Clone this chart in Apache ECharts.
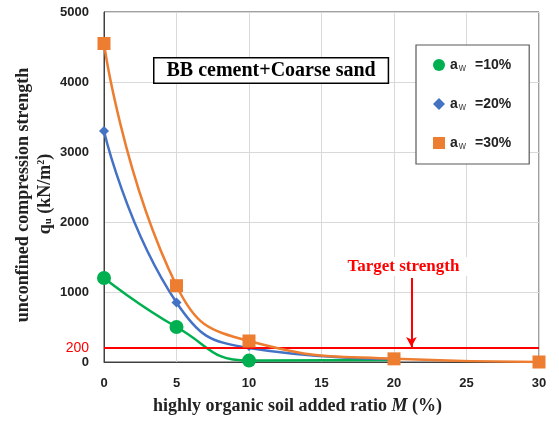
<!DOCTYPE html>
<html><head><meta charset="utf-8">
<script src="https://cdn.jsdelivr.net/npm/echarts@6/dist/echarts.min.js"></script>
<style>html,body{margin:0;padding:0;background:#fff}#c{width:559px;height:421px}</style>
</head><body><div id="c"></div>
<script>
// ---- data ----
const xMin = 0, xMax = 30, xStep = 5;
const yMin = 0, yMax = 5000, yStep = 1000;
const legendLabels = ['=10%', '=20%', '=30%'];
const M_10 = [0, 5, 10, 20];
const q_10 = [1200, 500, 20, 30];
const M_20 = [0, 5, 10, 20];
const q_20 = [3300, 850, 200, 40];
const M_30 = [0, 5, 10, 20, 30];
const q_30 = [4550, 1090, 300, 45, 0];
const targetStrength = 200;
const targetLabel = 'Target strength';
const arrowM = 21.2, arrowTop = 1200, arrowBottom = 215;
const boxTitle = 'BB cement+Coarse sand';
const xTitle = ['highly organic soil added ratio ', 'M', ' (%)'];
const yTitle1 = 'unconfined compression strength';

const pairs = (xs, ys) => xs.map((x, i) => [x, ys[i]]);

const chart = echarts.init(document.getElementById('c'), null, {renderer: 'canvas'});
const numFont = 'Liberation Sans';
const serif = 'Liberation Serif';

const legendRich = {
  a: {fontFamily: numFont, fontWeight: 'bold', fontSize: 14, color: '#222'},
  s: {fontFamily: numFont, fontSize: 10, color: '#444', verticalAlign: 'bottom', padding: [6, 0, 0, 1]},
  v: {fontFamily: numFont, fontWeight: 'bold', fontSize: 14, color: '#222', padding: [0, 0, 0, 9]}
};

const option = {
  animation: false,
  backgroundColor: '#fff',
  grid: {left: 104, right: 20, top: 12, bottom: 59, show: true, borderColor: '#404040', borderWidth: 1, containLabel: false},
  xAxis: {
    type: 'value', min: xMin, max: xMax, interval: xStep,
    axisLine: {show: true, lineStyle: {color: '#404040', width: 1}},
    axisTick: {show: false},
    axisLabel: {fontFamily: numFont, fontWeight: 'bold', fontSize: 13, color: '#222', margin: 15},
    splitLine: {show: true, lineStyle: {color: '#d9d9d9', width: 1}}
  },
  yAxis: {
    type: 'value', min: yMin, max: yMax, interval: yStep,
    axisLine: {show: true, lineStyle: {color: '#404040', width: 1}},
    axisTick: {show: false},
    axisLabel: {fontFamily: numFont, fontWeight: 'bold', fontSize: 13, color: '#222', margin: 15,
                formatter: (v) => String(v)},
    splitLine: {show: true, lineStyle: {color: '#d9d9d9', width: 1}}
  },
  legend: {
    orient: 'vertical', left: 416, top: 45,
    padding: [13, 18, 13, 17], itemGap: 24, itemWidth: 12, itemHeight: 12,
    borderColor: '#595959', borderWidth: 1.2, backgroundColor: '#fff',
    data: [
      {name: 's10', icon: 'circle'},
      {name: 's20', icon: 'diamond'},
      {name: 's30', icon: 'rect'}
    ],
    formatter: function (n) {
      const i = ['s10', 's20', 's30'].indexOf(n);
      return '{a|a}{s|w}{v|' + legendLabels[i] + '}';
    },
    textStyle: {rich: legendRich}
  },
  series: [
    {
      name: 's10', type: 'line', data: pairs(M_10, q_10), smooth: 0.5,
      symbol: 'circle', z: 3,
      symbolSize: (v, p) => (p.dataIndex === M_10.length - 1 ? 6 : 14),
      lineStyle: {color: '#00b050', width: 2.5}, itemStyle: {color: '#00b050'}
    },
    {
      name: 's20', type: 'line', data: pairs(M_20, q_20), smooth: 0.5,
      symbol: 'diamond', z: 4,
      symbolSize: (v, p) => (p.dataIndex >= 2 ? 6 : 10),
      lineStyle: {color: '#4472c4', width: 2.5}, itemStyle: {color: '#4472c4'}
    },
    {
      name: 's30', type: 'line', data: pairs(M_30, q_30), smooth: 0.5,
      symbol: 'rect', symbolSize: 13, z: 5,
      lineStyle: {color: '#ed7d31', width: 2.5}, itemStyle: {color: '#ed7d31'}
    },
    {
      name: 'target', type: 'line', data: [], z: 10,
      markLine: {
        silent: true, animation: false,
        data: [
          [
            {yAxis: targetStrength, x: 104, symbol: 'none',
             label: {show: true, position: 'start', formatter: String(targetStrength), color: '#ff0000',
                     fontFamily: numFont, fontSize: 14, distance: 15},
             lineStyle: {color: '#ff0000', width: 2, type: 'solid'}},
            {yAxis: targetStrength, x: 539, symbol: 'none'}
          ],
          [
            {coord: [arrowM, arrowTop], symbol: 'none',
             label: {show: true, position: 'start', formatter: targetLabel, color: '#ff0000',
                     fontFamily: serif, fontWeight: 'bold', fontSize: 17, distance: 2,
                     backgroundColor: '#fff', padding: [1, 16, 1, 0]},
             lineStyle: {color: '#ff0000', width: 2, type: 'solid'}},
            {coord: [arrowM, arrowBottom], symbol: 'arrow', symbolSize: [8, 10]}
          ]
        ]
      }
    }
  ],
  graphic: [
    {
      type: 'text', left: 153, top: 57, z: 20,
      style: {
        text: boxTitle, font: 'bold 20px "Liberation Serif"', fill: '#000',
        backgroundColor: '#fff', borderColor: '#000', borderWidth: 1.5,
        padding: [2, 12, 2, 12]
      }
    },
    {
      type: 'text', z: 20, x: 23, y: 195, rotation: Math.PI / 2,
      style: {
        text: yTitle1, font: 'bold 18px "Liberation Serif"', fill: '#222',
        align: 'center', verticalAlign: 'middle'
      }
    },
    {
      type: 'text', z: 20, x: 45, y: 194, rotation: Math.PI / 2,
      style: {
        text: '{b|q}{s|u}{b| (kN/m}{p|2}{b|)}',
        align: 'center', verticalAlign: 'middle',
        rich: {
          b: {fontFamily: serif, fontWeight: 'bold', fontSize: 18, fill: '#222'},
          s: {fontFamily: serif, fontWeight: 'bold', fontSize: 11, fill: '#222', verticalAlign: 'bottom', padding: [7, 0, 0, 0]},
          p: {fontFamily: serif, fontWeight: 'bold', fontSize: 10, fill: '#222', verticalAlign: 'top', padding: [0, 0, 8, 0]}
        }
      }
    },
    {
      type: 'text', z: 20, left: 153, top: 397,
      style: {
        text: '{b|' + xTitle[0] + '}{i|' + xTitle[1] + '}{b|' + xTitle[2] + '}',
        rich: {
          b: {fontFamily: serif, fontWeight: 'bold', fontSize: 18, fill: '#222'},
          i: {fontFamily: serif, fontWeight: 'bold', fontStyle: 'italic', fontSize: 18, fill: '#222'}
        }
      }
    }
  ]
};
chart.setOption(option);
</script>
</body></html>
